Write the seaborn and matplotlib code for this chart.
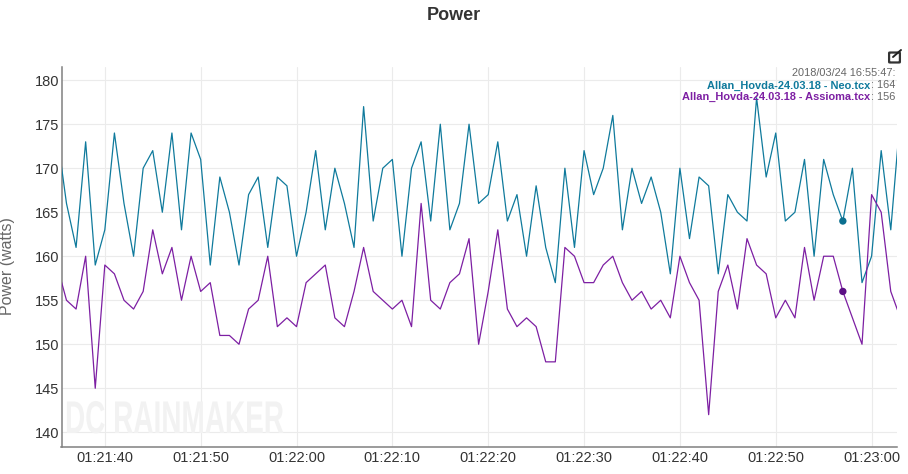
# Power comparison chart, two power meters over about 90 seconds
import pandas as pd
import matplotlib.pyplot as plt
import matplotlib.dates as mdates
import matplotlib.patches as mpatches
import matplotlib.patheffects as pe
from matplotlib.transforms import Affine2D
plt.switch_backend('Agg')
import seaborn as sns

neo_name = "Allan_Hovda-24.03.18 - Neo.tcx"
assioma_name = "Allan_Hovda-24.03.18 - Assioma.tcx"

# one reading per second from 01:21:35 to 01:23:03 (first and last fall just outside the axes)
neo_watts = [174, 166, 161, 173, 159, 163, 174, 166, 160, 170, 172, 165, 174, 163, 174, 171, 159, 169, 165, 159,
             167, 169, 161, 169, 168, 160, 165, 172, 163, 170, 166, 161, 177, 164, 170, 171, 160, 170, 173, 164,
             175, 163, 166, 175, 166, 167, 173, 164, 167, 160, 168, 161, 157, 170, 161, 172, 167, 170, 176, 163,
             170, 166, 169, 165, 158, 170, 162, 169, 168, 158, 167, 165, 164, 178, 169, 174, 164, 165, 171, 160,
             171, 167, 164, 170, 157, 160, 172, 163, 176]
assioma_watts = [159, 155, 154, 160, 145, 159, 158, 155, 154, 156, 163, 158, 161, 155, 160, 156, 157, 151, 151, 150,
                 154, 155, 160, 152, 153, 152, 157, 158, 159, 153, 152, 156, 161, 156, 155, 154, 155, 152, 166, 155,
                 154, 157, 158, 162, 150, 156, 163, 154, 152, 153, 152, 148, 148, 161, 160, 157, 157, 159, 160, 157,
                 155, 156, 154, 155, 153, 160, 157, 155, 142, 156, 159, 154, 162, 159, 158, 153, 155, 153, 161, 155,
                 160, 160, 156, 153, 150, 167, 165, 156, 153]
y_ticks = [140, 145, 150, 155, 160, 165, 170, 175, 180]
x_ticks = ["01:21:40", "01:21:50", "01:22:00", "01:22:10", "01:22:20", "01:22:30", "01:22:40", "01:22:50", "01:23:00"]

hover_time = "2018-03-24 01:22:57"
hover_neo = 164
hover_assioma = 156

teal = "#0f7a9c"
purple = "#7d1fa3"
gray = "#666666"


class SqueezeX(pe.AbstractPathEffect):
    # narrows text horizontally about x0, no narrow bold font is installed
    def __init__(self, x0, factor):
        super().__init__()
        self.x0 = x0
        self.factor = factor

    def draw_path(self, renderer, gc, tpath, affine, rgbFace=None):
        squeeze = Affine2D().translate(-self.x0, 0).scale(self.factor, 1).translate(self.x0, 0)
        renderer.draw_path(gc, tpath, affine + squeeze, rgbFace)


times = pd.date_range("2018-03-24 01:21:35", periods=len(neo_watts), freq="s")
power_df = pd.DataFrame({"time": times, "neo": neo_watts, "assioma": assioma_watts})

sns.set_style("white")
plt.rcParams['font.family'] = ['Liberation Sans', 'DejaVu Sans']

fig = plt.figure(figsize=(9.08, 4.74), dpi=100)
ax = fig.add_axes([61.5/908, (474-446.7)/474, (897-61.5)/908, (446.7-67)/474])

sns.lineplot(ax=ax, data=power_df, x="time", y="neo", color=teal, linewidth=0.9, zorder=3)
sns.lineplot(ax=ax, data=power_df, x="time", y="assioma", color=purple, linewidth=0.9, zorder=3)

hover_df = pd.DataFrame({"time": pd.to_datetime([hover_time, hover_time]), "value": [hover_neo, hover_assioma]})
sns.scatterplot(ax=ax, data=hover_df, x="time", y="value", color=teal, legend=False,
                s=28, linewidth=0, zorder=5)
ax.collections[-1].set_facecolor(["#0b6f8f", "#5c0f85"])

ax.set_ylim(138.36, 181.5)
ax.set_xlim(pd.Timestamp("2018-03-24 01:21:35.48"), pd.Timestamp("2018-03-24 01:23:02.65"))
ax.set_yticks(y_ticks)
ax.set_xticks(pd.to_datetime(["2018-03-24 " + t for t in x_ticks]))
ax.xaxis.set_major_formatter(mdates.DateFormatter("%H:%M:%S"))
ax.tick_params(axis='both', labelsize=10.5, labelcolor="#333333", length=0)
ax.tick_params(axis='y', pad=1.5)
ax.tick_params(axis='x', pad=3)
ax.set_xlabel("")
ax.set_ylabel("Power (watts)", fontsize=11.5, color=gray)
ax.yaxis.set_label_coords((15 - 61.5)/835.5, 0.476)

ax.grid(True, color="#ebebeb", linewidth=0.8)
ax.set_axisbelow(True)
sns.despine(ax=ax)
for side in ["left", "bottom"]:
    ax.spines[side].set_color("#808080")
    ax.spines[side].set_linewidth(1.1)

fig.text(454/908, 1 - 16/474, "Power", ha="center", va="center", fontsize=13, fontweight="bold", color="#333333")

# watermark
fig.text(65/908, 1 - 443/474, "DC RAINMAKER", ha="left", va="bottom", fontsize=33, fontweight="bold",
         color="#f2f2f2", zorder=1, path_effects=[SqueezeX(65, 0.61)])

# hover readout, top right
fig.canvas.draw()
renderer = fig.canvas.get_renderer()
fig.text(895/908, 1 - 73/474, "2018/03/24 16:55:47:", ha="right", va="center", fontsize=7.9, color="#666666")
for row_y, name, val, col in [(85.5, neo_name, hover_neo, teal), (97, assioma_name, hover_assioma, purple)]:
    val_txt = fig.text(895/908, 1 - row_y/474, f": {val}", ha="right", va="center", fontsize=7.9, color="#666666")
    left_px = val_txt.get_window_extent(renderer).x0
    fig.text(left_px/908, 1 - row_y/474, name, ha="right", va="center", fontsize=7.9, fontweight="bold", color=col)

# small edit icon above the readout
fig.add_artist(mpatches.FancyBboxPatch((890/908, 1 - 62/474), 9/908, 9/474, boxstyle="round,pad=0.001",
                                       transform=fig.transFigure, fill=False, edgecolor="#333333", linewidth=1.6))
fig.add_artist(plt.Line2D([893/908, 901/908], [1 - 57/474, 1 - 50/474], color="#222222", linewidth=1.4))

plt.savefig("out.png", dpi=100)
